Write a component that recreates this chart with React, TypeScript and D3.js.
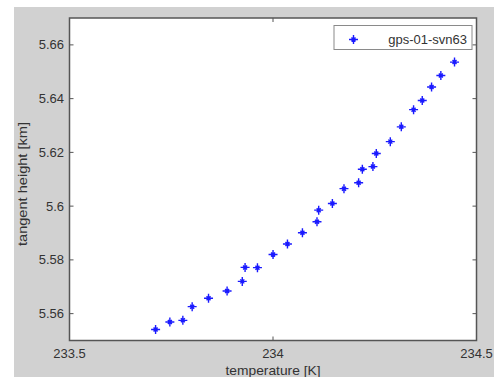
import React from "react";
import * as d3 from "d3";

// Temperature [K] vs tangent height [km] for one occultation profile
const temperature = [
  233.7115, 233.7466, 233.7785, 233.8014, 233.8416, 233.8872, 233.9245, 233.9314,
  233.9618, 234.0001, 234.0355, 234.0723, 234.1081, 234.1123, 234.1459, 234.1744,
  234.2104, 234.2195, 234.2455, 234.2538, 234.2882, 234.3152, 234.3454, 234.3667,
  234.3896, 234.4124, 234.446,
];
const tangentHeight = [
  5.5541, 5.5569, 5.5575, 5.5626, 5.5657, 5.5684, 5.572, 5.5772,
  5.5771, 5.582, 5.5859, 5.5901, 5.5942, 5.5985, 5.601, 5.6065,
  5.6087, 5.6137, 5.6147, 5.6196, 5.624, 5.6295, 5.6359, 5.6393,
  5.6443, 5.6486, 5.6536,
];
const xTicks = [233.5, 234, 234.5];
const xTickLabels = ["233.5", "234", "234.5"];
const yTicks = [5.56, 5.58, 5.6, 5.62, 5.64, 5.66];
const yTickLabels = ["5.56", "5.58", "5.6", "5.62", "5.64", "5.66"];
const seriesName = "gps-01-svn63";
const xLabel = "temperature [K]";
const yLabel = "tangent height [km]";

const W = 494;
const H = 377;
const left = 69.5;
const right = 476.5;
const top = 18;
const bottom = 340.5;

const starPath = "M-4.5,0H4.5M0,-4.5V4.5M-2,-2L2,2M-2,2L2,-2";

export default function App() {
  const x = d3.scaleLinear().domain([233.5, 234.5]).range([left, right]);
  const y = d3.scaleLinear().domain([5.55, 5.67]).range([bottom, top]);
  const font = "'Liberation Sans', Arial, sans-serif";
  const txt = "#333333";
  const tickLen = 4;

  return (
    <svg
      width={W}
      height={H}
      style={{ position: "fixed", left: 0, top: 0, display: "block" }}
      fontFamily={font}
    >
      <rect x={0} y={0} width={W} height={H} fill="#ffffff" />
      <rect x={14} y={7} width={W - 14} height={H - 7} fill="#d1d1d1" />
      <rect x={left} y={top} width={right - left} height={bottom - top} fill="#ffffff" />

      {/* tick marks on all four sides, pointing inward */}
      {xTicks.map((t, i) => (
        <g key={"xt" + i} stroke="#555" strokeWidth={1}>
          <line x1={x(t)} x2={x(t)} y1={bottom} y2={bottom - tickLen} />
          <line x1={x(t)} x2={x(t)} y1={top} y2={top + tickLen} />
        </g>
      ))}
      {yTicks.map((t, i) => (
        <g key={"yt" + i} stroke="#555" strokeWidth={1}>
          <line x1={left} x2={left + tickLen} y1={y(t)} y2={y(t)} />
          <line x1={right} x2={right - tickLen} y1={y(t)} y2={y(t)} />
        </g>
      ))}

      {/* data points */}
      <g stroke="#1a1aff" strokeWidth={1.4} fill="none">
        {temperature.map((t, i) => (
          <path
            key={"p" + i}
            transform={`translate(${x(t)},${y(tangentHeight[i])})`}
            d={starPath}
          />
        ))}
      </g>

      <rect
        x={left}
        y={top}
        width={right - left}
        height={bottom - top}
        fill="none"
        stroke="#555"
        strokeWidth={1.5}
      />

      {/* tick labels */}
      {xTicks.map((t, i) => (
        <text
          key={"xl" + i}
          x={x(t)}
          y={358}
          textAnchor="middle"
          fontSize={13}
          fill={txt}
        >
          {xTickLabels[i]}
        </text>
      ))}
      {yTicks.map((t, i) => (
        <text
          key={"yl" + i}
          x={64}
          y={y(t) + 4.5}
          textAnchor="end"
          fontSize={13}
          fill={txt}
        >
          {yTickLabels[i]}
        </text>
      ))}

      {/* axis titles */}
      <text
        x={(left + right) / 2}
        y={375}
        textAnchor="middle"
        fontSize={13}
        fill={txt}
        textLength={95}
        lengthAdjust="spacingAndGlyphs"
      >
        {xLabel}
      </text>
      <text
        transform={`translate(27,184) rotate(-90)`}
        textAnchor="middle"
        fontSize={13}
        fill={txt}
        textLength={124}
        lengthAdjust="spacingAndGlyphs"
      >
        {yLabel}
      </text>

      {/* legend */}
      <rect x={334} y={25.5} width={138} height={24} fill="#ffffff" stroke="#8a8a8a" strokeWidth={1} />
      <path
        transform="translate(353.5,39.5)"
        d={starPath}
        stroke="#1a1aff"
        strokeWidth={1.4}
        fill="none"
      />
      <text x={467} y={44} textAnchor="end" fontSize={13} fill={txt}>
        {seriesName}
      </text>
    </svg>
  );
}
